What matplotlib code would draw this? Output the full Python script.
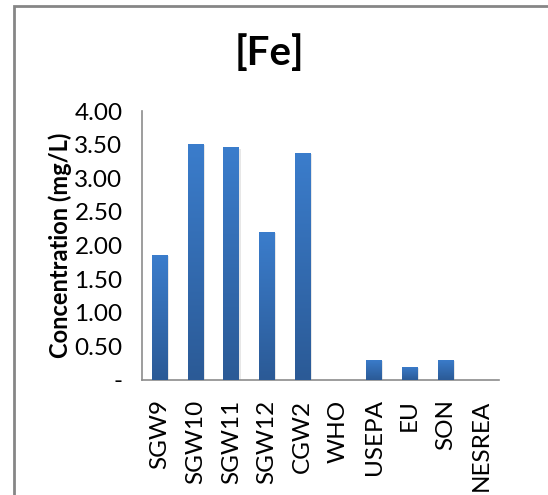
import numpy as np
import matplotlib.pyplot as plt
from matplotlib.patches import Rectangle
from matplotlib.ticker import FuncFormatter
from matplotlib.colors import LinearSegmentedColormap

sites = ['SGW9', 'SGW10', 'SGW11', 'SGW12', 'CGW2', 'WHO', 'USEPA', 'EU', 'SON', 'NESREA']
fe_conc = [1.86, 3.51, 3.46, 2.20, 3.38, 0.0, 0.30, 0.20, 0.30, 0.0]
y_ticks = [0.0, 0.5, 1.0, 1.5, 2.0, 2.5, 3.0, 3.5, 4.0]

plt.rcParams['font.family'] = ['Lato', 'DejaVu Sans']

W, H = 548, 495
fig = plt.figure(figsize=(W / 100, H / 100), dpi=100)
ax = fig.add_axes([142 / W, 1 - 380 / H, (499 - 142) / W, (380 - 111) / H])

x = np.arange(len(sites))
bars = ax.bar(x, fe_conc, width=0.44, color='none', edgecolor='none', zorder=2)

# vertical gradient fill, lighter at the top of each bar
grad = np.linspace(0, 1, 256).reshape(-1, 1)
cmap = LinearSegmentedColormap.from_list('fe', ['#2b5a96', '#3b7dcc'])
for b, v in zip(bars, fe_conc):
    if v <= 0:
        continue
    x0, w = b.get_x(), b.get_width()
    # soft shadow to the right
    ax.add_patch(Rectangle((x0 + 0.04, 0), w, v - 0.02, color='#d8d8d8', alpha=0.6,
                           zorder=1, lw=0))
    im = ax.imshow(grad, extent=(x0, x0 + w, 0, v), origin='lower', cmap=cmap,
                   aspect='auto', zorder=3)
    im.set_clip_path(b)

ax.set_xlim(-0.5, len(sites) - 0.5)
ax.set_ylim(0, 4.0)
ax.set_yticks(y_ticks)
ax.yaxis.set_major_formatter(FuncFormatter(lambda v, p: '-' if v == 0 else f'{v:.2f}'))
ax.set_xticks(x)
ax.set_xticklabels(sites, rotation=90)
ax.tick_params(axis='both', length=0, labelsize=17.5, colors='black')
ax.tick_params(axis='x', pad=14)
ax.tick_params(axis='y', pad=14)

for side in ['top', 'right']:
    ax.spines[side].set_visible(False)
for side in ['left', 'bottom']:
    ax.spines[side].set_color('#8c8c8c')
    ax.spines[side].set_linewidth(1.2)

ax.set_ylabel('Concentration (mg/L)', fontsize=17, fontweight='bold', labelpad=2)
fig.text(269 / W, 1 - 53 / H, '[Fe]', ha='center', va='center', fontsize=29,
         fontweight='bold')

# chart frame
fig.add_artist(Rectangle((14 / W, -0.1), 1.0, 1 - 6 / H + 0.1, transform=fig.transFigure,
                         fill=False, edgecolor='#868686', linewidth=2))

fig.savefig('out.png', dpi=100)
